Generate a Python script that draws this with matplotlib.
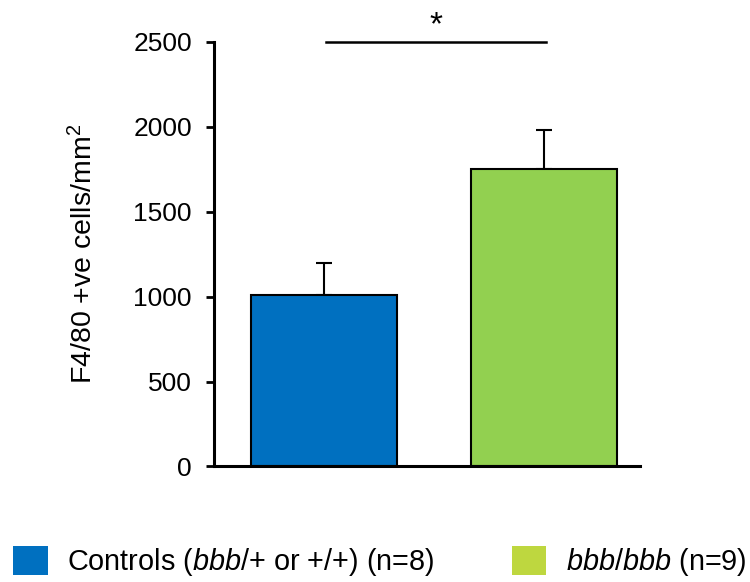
import matplotlib
matplotlib.use("Agg")
import matplotlib.pyplot as plt
from matplotlib.patches import Patch

plt.rcParams['font.family'] = ['Liberation Sans', 'DejaVu Sans']
plt.rcParams['mathtext.fontset'] = 'custom'
plt.rcParams['mathtext.rm'] = 'Liberation Sans'
plt.rcParams['mathtext.it'] = 'Liberation Sans:italic'

# F4/80 positive cell counts per genotype
groups = ["Controls", "bbb/bbb"]
means = [1010, 1750]
errors = [190, 230]
bar_colors = ["#0070C0", "#92D050"]
legend_colors = ["#0070C0", "#BED73F"]
legend_labels = [r"Controls ($\it{bbb}$/+ or +/+) (n=8)", r"$\it{bbb/bbb}$ (n=9)"]

fig = plt.figure(figsize=(7.5, 5.82), dpi=100)
ax = fig.add_axes([0.2853, 0.1985, 0.568, 0.730])

x = list(range(len(groups)))
ax.bar(x, means, width=0.665, color=bar_colors, edgecolor="black", linewidth=1.5, zorder=2)
ax.errorbar(x, means, yerr=[[0, 0], errors], fmt="none", ecolor="black",
            elinewidth=1.5, capsize=6, capthick=1.5, zorder=1)

ax.set_xlim(-0.503, 1.437)
ax.set_ylim(0, 2500)
ax.set_yticks([0, 500, 1000, 1500, 2000, 2500])
ax.set_xticks([])
ax.tick_params(axis="y", labelsize=19, width=2, length=6, direction="out", pad=10)
for side in ["top", "right"]:
    ax.spines[side].set_visible(False)
for side in ["left", "bottom"]:
    ax.spines[side].set_linewidth(2.2)
ax.set_ylabel("F4/80 +ve cells/mm$^2$", fontsize=20.5, labelpad=25)

# significance bar
ax.plot([0.007, 1.009], [2500, 2500], color="black", lw=1.8, clip_on=False)
ax.text(0.508, 2500, "*", ha="center", va="bottom", fontsize=24, clip_on=False)

handles = [Patch(facecolor=c, edgecolor="none") for c in legend_colors]
fig.legend(handles, legend_labels, loc="center left", bbox_to_anchor=(0.0173, 0.0344),
           ncol=2, frameon=False, fontsize=20.8, handlelength=1.21, handleheight=1.21,
           handletextpad=0.66, columnspacing=2.66, borderaxespad=0, borderpad=0)

fig.savefig("out.png", dpi=100)
